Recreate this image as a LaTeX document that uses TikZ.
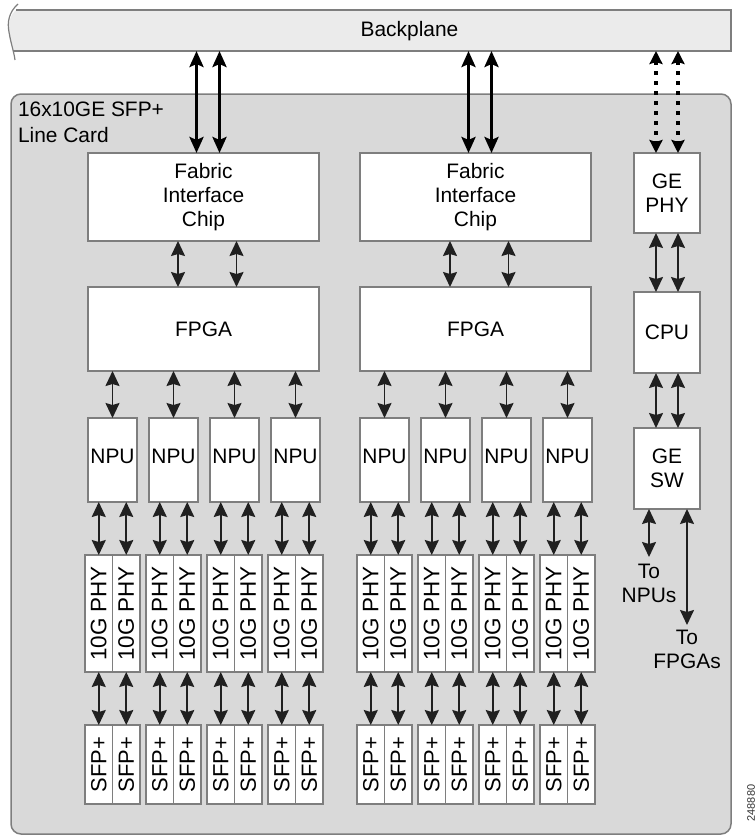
\documentclass[tikz,border=0pt]{standalone}
\usepackage{fontspec}
\setmainfont{Liberation Sans}
\usetikzlibrary{arrows.meta,calc}
\definecolor{bord}{HTML}{7E7E7E}
\definecolor{cardfill}{HTML}{D9D9D9}
\definecolor{bpfill}{HTML}{EBEBEB}
\definecolor{arrc}{HTML}{202020}
\begin{document}
\begin{tikzpicture}[x=1bp,y=-1bp,
  txt/.style={font=\fontsize{21}{24.5}\selectfont, inner sep=0pt, outer sep=0pt, align=center},
  box/.style={txt, draw=bord, fill=white, line width=1.4bp},
  cellphy/.style={box, rotate=90, minimum width=117bp, minimum height=27.5bp, font=\fontsize{22.5}{24}\selectfont},
  cellsfp/.style={box, rotate=90, minimum width=79bp, minimum height=27.5bp, font=\fontsize{22}{24}\selectfont},
  dar/.style={arrc, line width=1.6bp, {Stealth[length=15bp,width=14bp,inset=2bp]}-{Stealth[length=15bp,width=14bp,inset=2bp]}},
  bar/.style={black, line width=3.5bp, {Stealth[length=16bp,width=14bp,inset=3bp]}-{Stealth[length=16bp,width=14bp,inset=3bp]}},
  dotar/.style={black, line width=4bp, dash pattern=on 4bp off 6bp, {Stealth[length=13bp,width=13bp,inset=2bp]}-{Stealth[length=13bp,width=13bp,inset=2bp]}}
]
\useasboundingbox (0,0) rectangle (756,837);
% backplane
\fill[bpfill] (16,10) -- (731,10) -- (731,51) -- (13,51) .. controls (11,44) and (9,38) .. (9,32) .. controls (8,22) and (11,14) .. (16,10) -- cycle;
\draw[bord, line width=1.5bp] (16,10) -- (731,10) -- (731,51) -- (13,51);
\draw[bord, line width=1.2bp] (18,4) .. controls (9,12) and (7,22) .. (9,32) .. controls (11,44) and (14,52) .. (15,60);
\node[txt] (bp) at (409.5,31) {Backplane};
\coordinate (bpb) at (0,51);
% line card
\draw[draw=bord, fill=cardfill, line width=1.5bp, rounded corners=10bp] (11,94) rectangle (731,834);
\node[txt, anchor=north west, align=left, font=\fontsize{21}{26}\selectfont] (card) at (18,102) {16x10GE SFP+\\Line Card};
% groups
\foreach \g/\n in {85/1,357/2}{
  \node[box, minimum width=231bp, minimum height=88bp] (fic\n) at ({\g+118.5},197) {Fabric\\Interface\\Chip};
  \node[box, minimum width=231bp, minimum height=84bp] (fpga\n) at ({\g+118.5},329) {FPGA};
  \draw[bar] (bpb -| {\g+111.5},0) -- (fic\n.north -| {\g+111.5},0);
  \draw[bar] (bpb -| {\g+134.5},0) -- (fic\n.north -| {\g+134.5},0);
  \draw[dar] (fic\n.south -| {\g+93},0) -- (fpga\n.north -| {\g+93},0);
  \draw[dar] (fic\n.south -| {\g+151.5},0) -- (fpga\n.north -| {\g+151.5},0);
  \foreach \k in {0,...,3}{
    \node[box, minimum width=49bp, minimum height=84bp] (npu\n\k) at ({\g+27.5+61*\k},460) {\raisebox{7.5bp}{NPU}};
    \draw[dar] (fpga\n.south -| npu\n\k.north) -- (npu\n\k.north);
    \foreach \i in {0,1}{
      \node[cellphy] (phy\n\k\i) at ({\g+61*\k+13.75+27.5*\i},613.5) {10G PHY};
      \node[cellsfp] (sfp\n\k\i) at ({\g+61*\k+13.75+27.5*\i},764.5) {SFP+};
      \draw[dar] (npu\n\k.south -| phy\n\k\i.east) -- (phy\n\k\i.east);
      \draw[dar] (phy\n\k\i.west) -- (sfp\n\k\i.east);
    }
  }
}
% right column
\node[box, minimum width=66bp, minimum height=80bp] (gephy) at (667,193) {GE\\PHY};
\node[box, minimum width=66bp, minimum height=81bp] (cpu) at (667,332.5) {CPU};
\node[box, minimum width=66bp, minimum height=81bp] (gesw) at (667,468.5) {GE\\SW};
\foreach \x in {656,678}{
  \draw[dotar] (bpb -| \x,0) -- (gephy.north -| \x,0);
  \draw[dar] (gephy.south -| \x,0) -- (cpu.north -| \x,0);
  \draw[dar] (cpu.south -| \x,0) -- (gesw.north -| \x,0);
}
\coordinate (tnp) at (649,557);
\coordinate (tfp) at (687,625);
\node[txt, anchor=north] (tonpu) at (649,564) {To\\NPUs};
\node[txt, anchor=north] (tofpga) at (687,630) {To\\FPGAs};
\draw[dar] (gesw.south -| tnp) -- (tnp);
\draw[dar] (gesw.south -| tfp) -- (tfp);
% figure number
\node[txt, rotate=90, font=\fontsize{11}{11}\selectfont, text=black!80] (fignum) at (751,803) {248880};
\end{tikzpicture}
\end{document}
